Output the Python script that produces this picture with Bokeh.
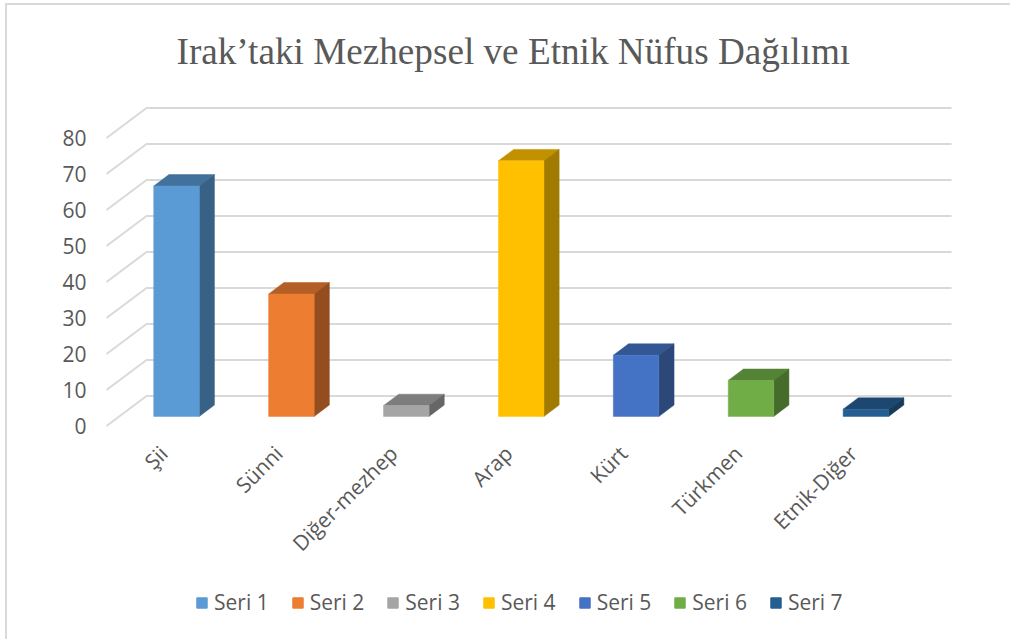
from bokeh.plotting import figure
from bokeh.layouts import column
from bokeh.models import FixedTicker, Legend, LegendItem, Range1d
from bokeh.embed import file_html
from bokeh.resources import INLINE

title_text = "Irak\u2019taki Mezhepsel ve Etnik N\u00fcfus Da\u011f\u0131l\u0131m\u0131"
categories = ["\u015eii", "S\u00fcnni", "Di\u011fer-mezhep", "Arap", "K\u00fcrt", "T\u00fcrkmen", "Etnik-Di\u011fer"]
values = [64, 34, 3, 71, 17, 10, 2]
series = ["Seri 1", "Seri 2", "Seri 3", "Seri 4", "Seri 5", "Seri 6", "Seri 7"]
y_ticks = [0, 10, 20, 30, 40, 50, 60, 70, 80]
front = ["#5B9BD5", "#ED7D31", "#A5A5A5", "#FFC000", "#4472C4", "#70AD47", "#255E91"]
top = ["#41719C", "#B45F26", "#7D7D7D", "#C19100", "#335694", "#558335", "#1C476E"]
side = ["#386285", "#934D1E", "#666666", "#A17A00", "#2B4879", "#466C2C", "#173B5A"]

W, H = 1010, 585
LEGEND_H = 54
FL, FR, FT, FB = 92, 1010, 90, 431
PX_PER_UNIT = 3.6
Y0_PX = 425.5
SLOT = 114.9
D1, D2 = 0.32, 0.70
X0_PX = 176 - D1 * 40

frame_css = (":host::before{content:'';position:absolute;left:5px;top:3px;right:0;height:636px;"
             "border-top:2px solid #D9D9D9;border-left:2px solid #D9D9D9;z-index:10;pointer-events:none}")

p = figure(width=W, height=H, frame_width=FR - FL, frame_height=FB - FT,
           output_backend="svg", toolbar_location=None,
           min_border_left=FL, min_border_right=W - FR, min_border_top=FT, min_border_bottom=0,
           x_range=Range1d((FL - X0_PX) / SLOT, (FR - X0_PX) / SLOT),
           y_range=Range1d((Y0_PX - FB) / PX_PER_UNIT, (Y0_PX - FT) / PX_PER_UNIT))
p.outline_line_color = None
p.grid.visible = False
p.background_fill_color = "white"

# oblique projection: depth 0 = front of the floor, 1 = back wall
DX = 40 / SLOT
DY = 30 / PX_PER_UNIT
HALF = 22.75 / SLOT
GL = (106 - X0_PX) / SLOT
GR = (951 - X0_PX) / SLOT

xs, ys = [], []
for t in y_ticks:
    xs.append([GL, GL + DX, GR])
    ys.append([t, t + DY, t + DY])
p.multi_line(xs, ys, line_color="#D9D9D9", line_width=2)

for i, v in enumerate(values):
    l, r = i - HALF + D1 * DX, i + HALF + D1 * DX
    dx = (D2 - D1) * DX
    b, t = D1 * DY, v + D1 * DY
    dy = (D2 - D1) * DY
    p.patch([l, l + dx, r + dx, r], [t, t + dy, t + dy, t], fill_color=top[i], line_color=top[i], line_width=0.5)
    p.patch([r, r + dx, r + dx, r], [b, b + dy, t + dy, t], fill_color=side[i], line_color=side[i], line_width=0.5)
    p.quad(left=l, right=r, bottom=b, top=t, fill_color=front[i], line_color=front[i], line_width=0.5)

ax = p.xaxis[0]
ax.ticker = FixedTicker(ticks=list(range(len(categories))))
ax.major_label_overrides = {i: c for i, c in enumerate(categories)}
ax.major_label_orientation = 0.785
ax.major_label_text_font = "Open Sans"
ax.major_label_text_font_size = "21px"
ax.major_label_text_color = "#595959"
ax.major_label_standoff = 12
ax.axis_line_color = None
ax.major_tick_line_color = None
ax.minor_tick_line_color = None

ay = p.yaxis[0]
ay.ticker = FixedTicker(ticks=y_ticks)
ay.major_label_text_font = "Open Sans"
ay.major_label_text_font_size = "21px"
ay.major_label_text_color = "#595959"
ay.major_label_standoff = 0
ay.axis_line_color = None
ay.major_tick_line_color = None
ay.minor_tick_line_color = None

p.title.text = title_text
p.title.text_font = "Liberation Serif"
p.title.text_font_size = "37.2px"
p.title.text_font_style = "normal"
p.title.text_color = "#595959"
p.title.align = "left"
p.title.offset = 84
p.title.standoff = 37

# legend strip
lf = figure(width=W, height=LEGEND_H, output_backend="svg", toolbar_location=None,
            min_border_left=0, min_border_right=0, min_border_top=0, min_border_bottom=0,
            x_range=Range1d(100, 101), y_range=Range1d(0, 1))
lf.outline_line_color = None
lf.grid.visible = False
lf.axis.visible = False
handles = [lf.quad(left=i, right=i + 0.8, bottom=0, top=v, fill_color=c, line_color=c)
           for i, (v, c) in enumerate(zip(values, front))]
legend = Legend(items=[LegendItem(label=s, renderers=[r]) for s, r in zip(series, handles)],
                orientation="horizontal", location=(103, 7),
                glyph_width=13, glyph_height=13, label_standoff=6, spacing=22,
                label_text_font="Open Sans", label_text_font_size="21px",
                label_text_color="#595959", border_line_color=None,
                background_fill_alpha=0, margin=0, padding=0)
lf.add_layout(legend)

page = column(p, lf, spacing=0, stylesheets=[frame_css])
open("out.html", "w").write(file_html(page, INLINE))
